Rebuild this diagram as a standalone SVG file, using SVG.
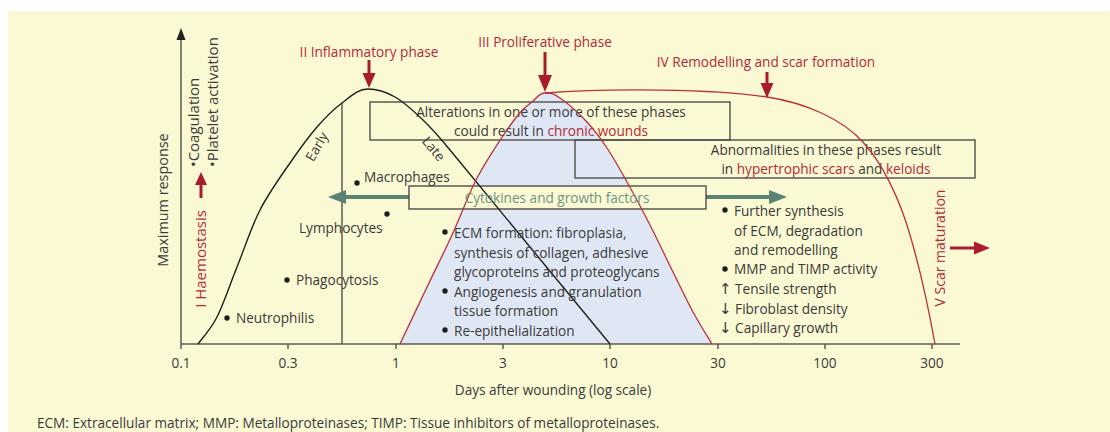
<svg xmlns="http://www.w3.org/2000/svg" width="1110" height="432" viewBox="0 0 1110 432">
<defs>
<style>
text{font-family:"Open Sans","Noto Sans","Liberation Sans",sans-serif;font-size:13.6px;fill:#3a3a3a}
.red{fill:#b3293a}
.grn{fill:#6e9484}
.mid{text-anchor:middle}
.arw{font-family:"DejaVu Sans",sans-serif;font-size:15px}
.ax{stroke:#5c5c55;stroke-width:1.5;fill:none}
.box{stroke:#4e4e4a;stroke-width:1.4}
.rarr{stroke:#a81c2c;stroke-width:3;fill:none}
.rhead{fill:#a81c2c}
.garr{stroke:#5b8373;stroke-width:4;fill:none}
.ghead{fill:#5b8373}
.dot{fill:#1e1e1e}
</style>
</defs>
<rect x="0" y="0" width="1110" height="432" fill="#ffffff"/>
<rect x="8" y="11" width="1102" height="421" fill="#fbf9d4"/>

<g id="bell-fill">
<path d="M400,344 C404.7,334.2 419.3,303.2 428,285 C436.7,266.8 444.2,252.2 452,235 C459.8,217.8 467.8,196.5 475,182 C482.2,167.5 487.8,159.2 495,148 C502.2,136.8 511.8,122.7 518,115 C524.2,107.3 527.5,105.7 532,102 C536.5,98.3 539,93 545,93 C551,93 553,93.2 560,98 C567,102.8 579.2,113.7 587,122 C594.8,130.3 600.3,138 607,148 C613.7,158 619.8,169.2 627,182 C634.2,194.8 642.3,210 650,225 C657.7,240 665.8,257.5 673,272 C680.2,286.5 686.5,300 693,312 C699.5,324 708.8,338.7 712,344 Z" fill="#dfe7f4" stroke="none"/>
</g>

<g id="axes">
<line class="ax" x1="181" y1="344" x2="181" y2="38"/>
<polygon points="181,28 176.5,40 185.5,40" fill="#222"/>
<line class="ax" x1="181" y1="344" x2="960" y2="344"/>
<line class="ax" x1="181" y1="344" x2="181" y2="349"/>
<line class="ax" x1="288" y1="344" x2="288" y2="349"/>
<line class="ax" x1="396" y1="344" x2="396" y2="349"/>
<line class="ax" x1="503" y1="344" x2="503" y2="349"/>
<line class="ax" x1="610" y1="344" x2="610" y2="349"/>
<line class="ax" x1="718" y1="344" x2="718" y2="349"/>
<line class="ax" x1="825" y1="344" x2="825" y2="349"/>
<line class="ax" x1="932" y1="344" x2="932" y2="349"/>
<line class="ax" x1="342" y1="103" x2="342" y2="344"/>
<text class="mid" x="181" y="368">0.1</text>
<text class="mid" x="288" y="368">0.3</text>
<text class="mid" x="396" y="368">1</text>
<text class="mid" x="503" y="368">3</text>
<text class="mid" x="610" y="368">10</text>
<text class="mid" x="718" y="368">30</text>
<text class="mid" x="825" y="368">100</text>
<text class="mid" x="932" y="368">300</text>
<text class="mid" x="553" y="395">Days after wounding (log scale)</text>
<text class="mid" style="font-size:14.4px" transform="translate(168,200) rotate(-90)">Maximum response</text>
</g>

<g id="alterations-box">
<rect x="370" y="102" width="360" height="38" fill="none" class="box"/>
<text class="mid" x="551" y="117">Alterations in one or more of these phases</text>
<text class="mid" x="551" y="136">could result in <tspan class="red">chronic wounds</tspan></text>
</g>

<g id="abnormalities-box">
<rect x="575" y="140" width="400" height="38" fill="none" class="box"/>
<text class="mid" x="826" y="155">Abnormalities in these phases result</text>
<text class="mid" x="826" y="174">in <tspan class="red">hypertrophic scars</tspan> and <tspan class="red">keloids</tspan></text>
</g>

<g id="cytokines">
<line class="garr" x1="344" y1="197" x2="772" y2="197"/>
<polygon class="ghead" points="328,197 346,190 346,204"/>
<polygon class="ghead" points="787,197 769,190 769,204"/>
<rect x="409" y="186" width="297" height="23" fill="#fbf9d4" class="box"/>
</g>

<g id="connectors">
<path d="M198,344 C201.2,339.5 210.5,329.8 217,317 C223.5,304.2 229.8,284.8 237,267 C244.2,249.2 251.2,227.3 260,210 C268.8,192.7 280.5,176.8 290,163 C299.5,149.2 308.3,137 317,127 C325.7,117 333.5,109.3 342,103 C350.5,96.7 357.8,89 368,89 C378,89 385.8,91.8 395,97 C404.2,102.2 413.8,111.2 423,120 C432.2,128.8 442.4,140.7 450,150 L610,344" fill="none" stroke="#1e1e1e" stroke-width="1.4"/>
<path d="M400,344 C404.7,334.2 419.3,303.2 428,285 C436.7,266.8 444.2,252.2 452,235 C459.8,217.8 467.8,196.5 475,182 C482.2,167.5 487.8,159.2 495,148 C502.2,136.8 511.8,122.7 518,115 C524.2,107.3 527.5,105.7 532,102 C536.5,98.3 539,93 545,93 C551,93 553,93.2 560,98 C567,102.8 579.2,113.7 587,122 C594.8,130.3 600.3,138 607,148 C613.7,158 619.8,169.2 627,182 C634.2,194.8 642.3,210 650,225 C657.7,240 665.8,257.5 673,272 C680.2,286.5 686.5,300 693,312 C699.5,324 708.8,338.7 712,344" fill="none" stroke="#b8323f" stroke-width="1.3"/>
<path d="M545,93 C610,88 715,89 767,97 C807,103 843,120 863,142 C883,164 900,200 910,235 C918,262 928,305 935,344" fill="none" stroke="#b8323f" stroke-width="1.3"/>
</g>

<g id="cytokines-label">
<text class="mid grn" x="557" y="203">Cytokines and growth factors</text>
</g>

<g id="phase-arrows">
<line class="rarr" x1="369" y1="60" x2="369" y2="76"/>
<polygon class="rhead" points="369,88 362.5,73 375.5,73"/>
<line class="rarr" x1="545" y1="52" x2="545" y2="78"/>
<polygon class="rhead" points="545,92 538,75 552,75"/>
<line class="rarr" x1="767" y1="72" x2="767" y2="86"/>
<polygon class="rhead" points="767,98 760.5,83 773.5,83"/>
<line class="rarr" x1="201" y1="198" x2="201" y2="182"/>
<polygon class="rhead" points="201,172 195,185 207,185"/>
<line class="rarr" x1="950" y1="248" x2="976" y2="248"/>
<polygon class="rhead" points="990,248 974,241.5 974,254.5"/>
</g>

<g id="phase-labels">
<text class="mid red" x="369" y="57">II Inflammatory phase</text>
<text class="mid red" x="545" y="47">III Proliferative phase</text>
<text class="mid red" x="766" y="67">IV Remodelling and scar formation</text>
<text class="mid red" style="font-size:15px" transform="translate(206,259) rotate(-90)">I Haemostasis</text>
<text class="mid red" style="font-size:14px" transform="translate(945,248) rotate(-90)">V Scar maturation</text>
</g>

<g id="haemostasis-items">
<text style="font-size:15px" transform="translate(198.5,167) rotate(-90)">•Coagulation</text>
<text style="font-size:15px" transform="translate(217.5,167) rotate(-90)">•Platelet activation</text>
</g>

<g id="inflammatory-items">
<text class="mid" transform="translate(321,149) rotate(-60)">Early</text>
<text class="mid" transform="translate(430,152) rotate(50)">Late</text>
<circle class="dot" cx="357" cy="183" r="2.7"/>
<text x="364" y="182">Macrophages</text>
<circle class="dot" cx="387" cy="214" r="2.7"/>
<text x="299" y="233">Lymphocytes</text>
<circle class="dot" cx="287" cy="280" r="2.7"/>
<text x="296" y="285">Phagocytosis</text>
<circle class="dot" cx="227" cy="318" r="2.7"/>
<text x="236" y="323">Neutrophilis</text>
</g>

<g id="proliferative-items">
<circle class="dot" cx="445" cy="232" r="2.7"/>
<text x="454" y="238">ECM formation: fibroplasia,</text>
<text x="454" y="258">synthesis of collagen, adhesive</text>
<text x="454" y="277">glycoproteins and proteoglycans</text>
<circle class="dot" cx="445" cy="291" r="2.7"/>
<text x="454" y="297">Angiogenesis and granulation</text>
<text x="454" y="316">tissue formation</text>
<circle class="dot" cx="445" cy="330" r="2.7"/>
<text x="454" y="336">Re-epithelialization</text>
</g>

<g id="remodelling-items">
<circle class="dot" cx="725" cy="210" r="2.7"/>
<text x="734" y="216">Further synthesis</text>
<text x="734" y="236">of ECM, degradation</text>
<text x="734" y="255">and remodelling</text>
<circle class="dot" cx="725" cy="269" r="2.7"/>
<text x="734" y="274">MMP and TIMP activity</text>
<text x="719" y="294"><tspan class="arw">↑</tspan> Tensile strength</text>
<text x="719" y="314"><tspan class="arw">↓</tspan> Fibroblast density</text>
<text x="719" y="333"><tspan class="arw">↓</tspan> Capillary growth</text>
</g>

<g id="footer">
<text x="37" y="428">ECM: Extracellular matrix; MMP: Metalloproteinases; TIMP: Tissue inhibitors of metalloproteinases.</text>
</g>
</svg>
